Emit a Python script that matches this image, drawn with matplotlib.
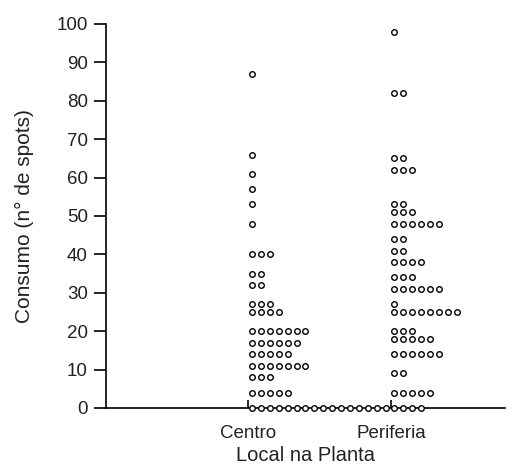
import numpy as np
import matplotlib
matplotlib.use("Agg")
import matplotlib.pyplot as plt

plt.rcParams["font.family"] = ["Liberation Sans", "DejaVu Sans"]

groups = ["Centro", "Periferia"]

# value of each row and how many plants share it
centro_vals = [87, 66, 61, 57, 53, 48, 40, 35, 32, 27, 25, 20, 17, 14, 11, 8, 4, 0]
centro_counts = [1, 1, 1, 1, 1, 1, 3, 2, 2, 3, 4, 7, 6, 5, 7, 3, 5, 16]

periferia_vals = [98, 82, 65, 62, 53, 51, 48, 44, 41, 38, 34, 31, 27, 25, 20, 18, 14, 9, 4, 0]
periferia_counts = [1, 2, 2, 3, 2, 3, 6, 2, 2, 4, 3, 6, 1, 8, 3, 5, 6, 2, 5, 4]

step = 0.063    # horizontal gap between tied points
start = 0.022


def rows(pos, vals, counts):
    xs, ys = [], []
    for v, n in zip(vals, counts):
        for k in range(n):
            xs.append(pos + start + k * step)
            ys.append(v)
    return np.array(xs), np.array(ys)


fig = plt.figure(figsize=(5.24, 4.66), dpi=100)
ax = fig.add_axes([0.202, 0.1245, 0.762, 0.824])

for i, (vals, counts) in enumerate([(centro_vals, centro_counts),
                                    (periferia_vals, periferia_counts)]):
    x, y = rows(i + 1, vals, counts)
    ax.plot(x, y, "o", ms=4.0, mfc="white", mec="black", mew=1.0,
            clip_on=False, zorder=3)

ax.set_xlim(0, 2.8)
ax.set_ylim(0, 100)
ax.set_yticks(np.arange(0, 101, 10))
ax.set_xticks([1, 2])
ax.set_xticklabels(groups)

ax.spines["top"].set_visible(False)
ax.spines["right"].set_visible(False)
ax.spines["left"].set_linewidth(1.2)
ax.spines["bottom"].set_linewidth(1.2)

ax.tick_params(axis="y", direction="out", length=9, width=1.2,
               labelsize=13.5, pad=4, labelcolor="#222222")
ax.tick_params(axis="x", direction="in", length=6, width=1.2,
               labelsize=13.5, pad=12, labelcolor="#222222")

ax.set_ylabel("Consumo (n° de spots)", fontsize=15, labelpad=16,
              color="#222222")
ax.set_xlabel("Local na Planta", fontsize=14.5, labelpad=3, color="#222222")

fig.savefig("out.png", dpi=100)
